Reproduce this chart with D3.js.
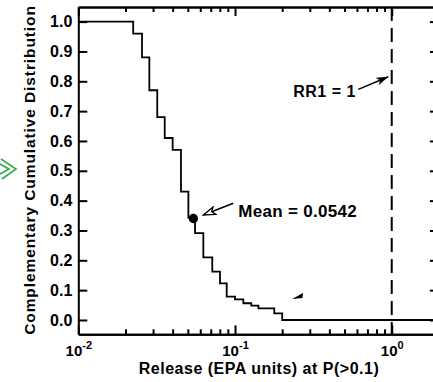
<!DOCTYPE html>
<html>
<head>
<style>
body { margin: 0; background: #fff; }
svg { font-family: "Liberation Sans", Arial, sans-serif; font-weight: bold; }
.axis path, .axis line { stroke: #000; stroke-width: 2; }
.tick text { fill: #000; }
</style>
</head>
<body>
<div id="chart"></div>
<script src="https://d3js.org/d3.v7.min.js"></script>
<script>
// step points of the complementary cumulative distribution
var releaseSteps = [0.0224, 0.0255, 0.0284, 0.0319, 0.0356, 0.0400, 0.0452, 0.0504, 0.0556, 0.0628,
                    0.0716, 0.0802, 0.0885, 0.100, 0.113, 0.127, 0.141, 0.178, 0.200];
var ccdfSteps = [0.96, 0.88, 0.77, 0.68, 0.61, 0.57, 0.43, 0.343, 0.291, 0.21,
                 0.162, 0.123, 0.078, 0.069, 0.056, 0.048, 0.039, 0.022, 0.0];
var yTicks = [0.0, 0.1, 0.2, 0.3, 0.4, 0.5, 0.6, 0.7, 0.8, 0.9, 1.0];
var xMajor = [0.01, 0.1, 1];
var xMajorExp = ["-2", "-1", "0"];
var xMinor = [0.02, 0.03, 0.04, 0.05, 0.06, 0.07, 0.08, 0.09,
              0.2, 0.3, 0.4, 0.5, 0.6, 0.7, 0.8, 0.9, 2];
var meanRelease = 0.0542, meanProb = 0.34;
var rr1 = 1;

var width = 433, height = 382;
var x = d3.scaleLog().domain([0.01, 2]).range([78.3, 438.9]);
var y = d3.scaleLinear().domain([-0.048, 1.049]).range([334.3, 7]);

var svg = d3.select("#chart").append("svg")
  .attr("width", width).attr("height", height);

var defs = svg.append("defs");
defs.append("marker").attr("id", "headFill")
  .attr("viewBox", "0 0 12 8").attr("refX", 12).attr("refY", 4)
  .attr("markerWidth", 12).attr("markerHeight", 8)
  .attr("markerUnits", "userSpaceOnUse").attr("orient", "auto")
  .append("path").attr("d", "M0,0 L12,4 L0,8 L3,4 Z").attr("fill", "#000");
defs.append("marker").attr("id", "headOpen")
  .attr("viewBox", "0 0 14 10").attr("refX", 13).attr("refY", 5)
  .attr("markerWidth", 14).attr("markerHeight", 10)
  .attr("markerUnits", "userSpaceOnUse").attr("orient", "auto")
  .append("path").attr("d", "M1,1 L13,5 L1,9 L4,5 Z")
  .attr("fill", "#fff").attr("stroke", "#000").attr("stroke-width", 1.3);

// axes: inward ticks on all four sides
var x0 = x.range()[0], x1 = x.range()[1];
var y0 = y.range()[0], y1 = y.range()[1];

function clean(g) { g.attr("font-family", null).attr("font-size", null); }

svg.append("g").attr("class", "axis").attr("transform", "translate(0," + y0 + ")")
  .call(d3.axisBottom(x).tickValues(xMinor).tickSize(-5).tickSizeOuter(0).tickFormat(""));
var xb = svg.append("g").attr("class", "axis").attr("transform", "translate(0," + y0 + ")")
  .call(d3.axisBottom(x).tickValues(xMajor).tickSize(-9).tickSizeOuter(0).tickPadding(11).tickFormat(""))
  .call(clean);
xb.selectAll(".tick text").each(function(d, i) {
  var t = d3.select(this).attr("font-size", 15).attr("dy", "0.71em");
  t.text("10");
  t.append("tspan").attr("font-size", 11).attr("dy", "-0.6em").text(xMajorExp[i]);
});
svg.append("g").attr("class", "axis").attr("transform", "translate(0," + y1 + ")")
  .call(d3.axisTop(x).tickValues(xMinor).tickSize(-5).tickSizeOuter(0).tickFormat(""));
svg.append("g").attr("class", "axis").attr("transform", "translate(0," + y1 + ")")
  .call(d3.axisTop(x).tickValues(xMajor).tickSize(-9).tickSizeOuter(0).tickFormat(""));

var yl = svg.append("g").attr("class", "axis").attr("transform", "translate(" + x0 + ",0)")
  .call(d3.axisLeft(y).tickValues(yTicks).tickSize(-9).tickSizeOuter(0).tickPadding(6)
    .tickFormat(d3.format(".1f")))
  .call(clean);
yl.selectAll(".tick text").attr("font-size", 16);
svg.append("g").attr("class", "axis").attr("transform", "translate(" + x1 + ",0)")
  .call(d3.axisRight(y).tickValues(yTicks).tickSize(-9).tickSizeOuter(0).tickFormat(""));

// RR1 dashed line
svg.append("line")
  .attr("x1", x(rr1)).attr("x2", x(rr1)).attr("y1", y1).attr("y2", y0)
  .attr("stroke", "#000").attr("stroke-width", 2).attr("stroke-dasharray", "14,7");

// CCDF step line
var pts = [[0.01, 1.0]];
releaseSteps.forEach(function(r, i) { pts.push([r, ccdfSteps[i]]); });
pts.push([2, 0.0]);
svg.append("path").datum(pts)
  .attr("fill", "none").attr("stroke", "#000").attr("stroke-width", 1.8)
  .attr("d", d3.line().x(function(d) { return x(d[0]); }).y(function(d) { return y(d[1]); })
    .curve(d3.curveStepAfter));

// mean marker
svg.append("circle").attr("cx", x(meanRelease)).attr("cy", y(meanProb)).attr("r", 4.7).attr("fill", "#000");

// annotations
svg.append("line")
  .attr("x1", x(0.0975)).attr("y1", y(0.391)).attr("x2", x(0.0628)).attr("y2", y(0.352))
  .attr("stroke", "#000").attr("stroke-width", 1.5).attr("marker-end", "url(#headOpen)");
svg.append("text").attr("x", x(0.105)).attr("y", y(0.345))
  .attr("font-size", 17).attr("letter-spacing", 0.3).text("Mean = 0.0542");

svg.append("line")
  .attr("x1", x(0.612)).attr("y1", y(0.773)).attr("x2", x(0.951)).attr("y2", y(0.815))
  .attr("stroke", "#000").attr("stroke-width", 1.5).attr("marker-end", "url(#headFill)");
svg.append("text").attr("x", x(0.59)).attr("y", y(0.748)).attr("text-anchor", "end")
  .attr("font-size", 16).attr("letter-spacing", 0.5).text("RR1 = 1");

// stray arrowhead near the tail of the curve
var hx = x(0.2717), hy = y(0.0905);
svg.append("path")
  .attr("d", "M" + hx + "," + hy + " l-11,6 l10.4,-1 z")
  .attr("fill", "#000");

// green pointer at the left edge
svg.append("path").attr("d", "M1,159 L16,169 L2,179 M0,164 L9,169 L0,174")
  .attr("fill", "none").attr("stroke", "#2eaa4a").attr("stroke-width", 1.6);

// axis titles
svg.append("text").attr("x", 259).attr("y", 374).attr("text-anchor", "middle")
  .attr("font-size", 16).attr("letter-spacing", 0.5).text("Release (EPA units) at P(>0.1)");
svg.append("text").attr("transform", "translate(35,170) rotate(-90)").attr("text-anchor", "middle")
  .attr("font-size", 15.5).attr("letter-spacing", 0.9).text("Complementary Cumulative Distribution");
</script>
</body>
</html>
